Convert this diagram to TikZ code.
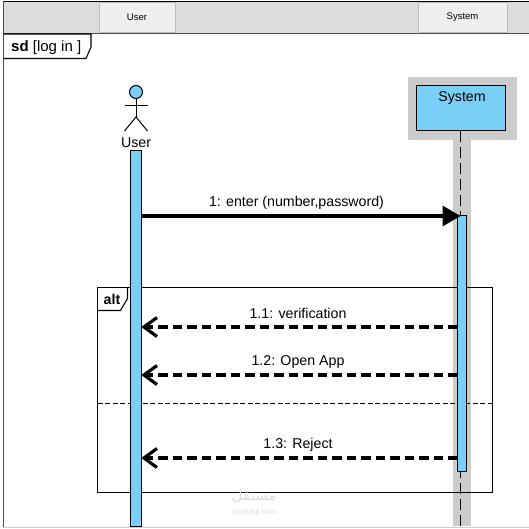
\documentclass[tikz,border=0pt]{standalone}
\usepackage{fontspec}
\setmainfont{Liberation Sans}
\newfontfamily\arabicfont[Script=Arabic]{DejaVu Sans}
\TeXXeTstate=1
\usepackage{xcolor}
\usetikzlibrary{arrows.meta,positioning,calc}
\definecolor{barblue}{HTML}{7ACFF6}
\definecolor{shadowgray}{HTML}{CCCCCC}
\definecolor{headergray}{HTML}{DCDCDC}
\definecolor{tabgray}{HTML}{EFEFEF}
\definecolor{markgray}{HTML}{DDDDDD}
\tikzset{
  box/.style={rectangle, draw=black, inner sep=0pt, outer sep=0pt},
  tabbox/.style={rectangle, draw=black!25, line width=1pt, fill=tabgray, inner sep=0pt, outer sep=0pt, font=\fontsize{9.5}{11}\selectfont},
  actbar/.style={box, line width=1pt, fill=barblue, minimum width=10.5pt},
  msglabel/.style={font=\fontsize{14.2}{16}\selectfont, inner sep=0pt},
  syncmsg/.style={line width=3.6pt, shorten >=-3pt, -{Stealth[length=18pt,width=20pt,inset=0pt]}},
  replymsg/.style={line width=3.6pt, dash pattern=on 9.5pt off 5pt, -{Straight Barb[length=13pt,width=19pt,line width=3.2pt]}}
}
\begin{document}
\begin{tikzpicture}[x=1pt,y=-1pt]
\useasboundingbox (0,0) rectangle (529,528);
% Window header
\node[box, draw=none, fill=headergray, minimum width=526pt, minimum height=32pt, anchor=north west] (header) at (3,1) {};
\draw[black, line width=1pt] (header.north west) -- (header.north east);
\draw[black!70, line width=1pt] (header.south west) -- (header.south east);
\draw[black!70, line width=1pt] (header.north west) -- (3,528);
\node[tabbox, minimum width=76pt, minimum height=30pt] (usertab) at (137,17.5) {User};
\node[tabbox, minimum width=89pt, minimum height=30pt] (systemtab) at (462.5,17.5) {System};
% Frame label
\draw[black, line width=1.1pt, fill=white] (4,34) -- (91,34) -- (91,47) -- (86,58.5) -- (4,58.5);
\node[msglabel, font=\fontsize{15}{17}\selectfont, anchor=west] (sdlabel) at (11,48) {\textbf{sd} [log in ]};
% System lifeline
\fill[shadowgray] (408,77) rectangle (517,140);
\fill[shadowgray] (453,140) rectangle (471,526);
\node[box, line width=1pt, fill=barblue, minimum width=89pt, minimum height=45pt, anchor=north west] (systembox) at (416.5,85.5) {};
\node[msglabel] (systemname) at (462,98.5) {System};
\coordinate (systemend) at (460.5,526);
\draw[black, line width=1.1pt, dash pattern=on 11pt off 5pt] (systembox.south -| systemend) -- (systemend);
% User actor
\node[circle, draw=black, line width=1pt, fill=barblue, minimum size=13pt, inner sep=0pt, outer sep=0pt] (userhead) at (136,92) {};
\coordinate (userhip) at (136,117);
\coordinate (userarml) at (124.5,105);
\coordinate (userarmr) at (147.5,105);
\coordinate (userfootl) at (124.5,131);
\coordinate (userfootr) at (147.5,131);
\draw[black, line width=1pt] (userhead.south) -- (userhip);
\draw[black, line width=1pt] (userarml) -- (userarmr);
\draw[black, line width=1pt] (userfootl) -- (userhip) -- (userfootr);
\node[msglabel] (username) at (136,143) {User};
% Combined fragment
\node[box, line width=1.1pt, minimum width=395pt, minimum height=205pt, anchor=north west] (altframe) at (97.5,287.5) {};
\draw[black, line width=1.1pt] (altframe.north west) ++(30,0) -- ++(0,11) -- ++(-7,12) -- ++(-23,0);
\node[msglabel, font=\fontsize{14.2}{16}\selectfont\bfseries] (altlabel) at (112,299) {alt};
\draw[black, line width=1pt, dash pattern=on 5pt off 2.5pt] (altframe.west |- 0,403) -- (altframe.east |- 0,403);
% Activation bars
\node[actbar, minimum height=376pt, anchor=north] (userbar) at (136,150.5) {};
\node[actbar, minimum width=9pt, minimum height=256pt, anchor=north] (systembar) at (462,215.5) {};
% Bottom edge
\draw[black!20, line width=1pt] (3,527) -- (529,527);
% Messages
\coordinate (msgone) at (0,216);
\coordinate (msgtwo) at (0,327);
\coordinate (msgthree) at (0,375);
\coordinate (msgfour) at (0,458);
\draw[syncmsg] (userbar.east |- msgone) -- (systembar.west |- msgone);
\draw[replymsg] (systembar.west |- msgtwo) -- (userbar.east |- msgtwo);
\draw[replymsg] (systembar.west |- msgthree) -- (userbar.east |- msgthree);
\draw[replymsg] (systembar.west |- msgfour) -- (userbar.east |- msgfour);
% Labels
\node[msglabel] (labelone) at (296.5,203) {1: enter (number,password)};
\node[msglabel] (labeltwo) at (298,313.5) {1.1: verification};
\node[msglabel] (labelthree) at (298,362) {1.2: Open App};
\node[msglabel] (labelfour) at (298,445) {1.3: Reject};
% Watermark
\node[markgray, font=\fontsize{15}{16}\selectfont\arabicfont, inner sep=0pt] (markarabic) at (254,496) {\beginR مستقل\endR};
\node[markgray, font=\fontsize{8}{9}\selectfont, inner sep=0pt] (marklatin) at (254,512) {mostaql.com};
\end{tikzpicture}
\end{document}
